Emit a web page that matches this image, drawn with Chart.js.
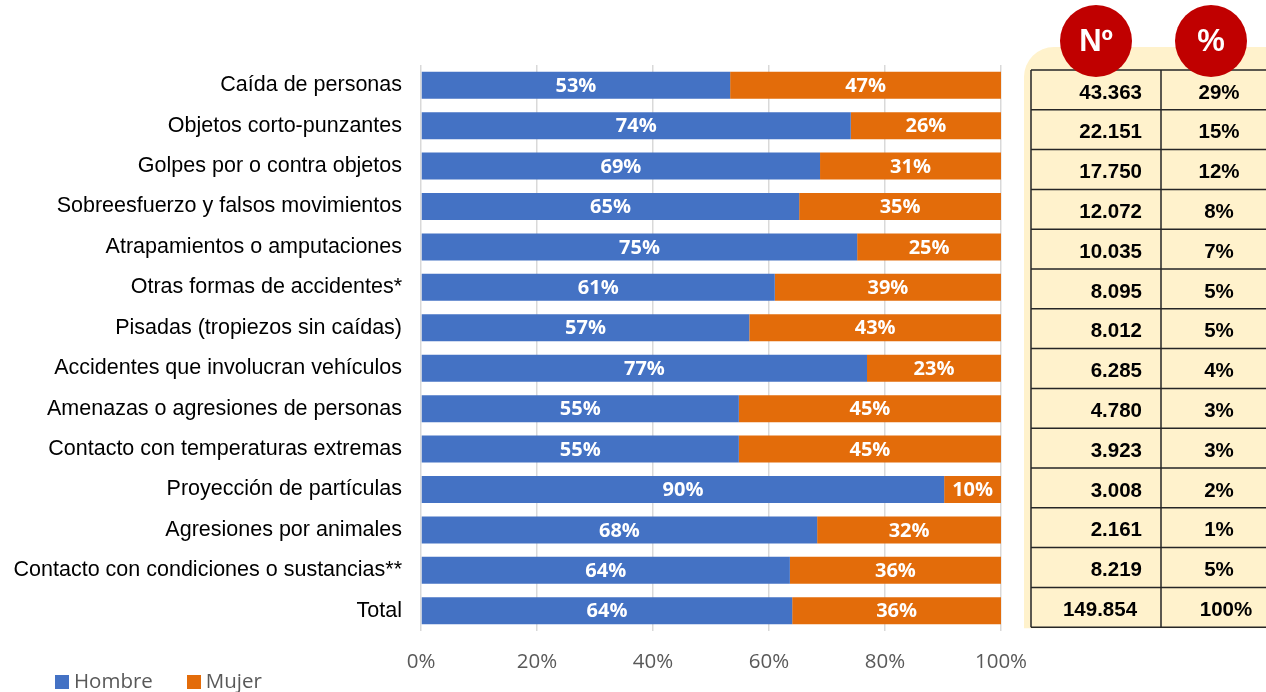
<!DOCTYPE html>
<html>
<head>
<meta charset="utf-8">
<script src="https://cdn.jsdelivr.net/npm/chart.js@4/dist/chart.umd.min.js"></script>
<style>
  body { margin:0; background:#fff; }
  #wrap { position:relative; width:1266px; height:692px; }
  #legend { position:absolute; left:55px; top:666px; font-family:"Open Sans", sans-serif; font-size:20.5px; color:#595959; }
  #legend span.box { display:inline-block; width:14px; height:14px; margin-right:5px; vertical-align:-1px; }
  #legend span.item { margin-right:34px; }
</style>
</head>
<body>
<div id="wrap">
  <canvas id="chart"></canvas>
  <div id="legend"></div>
</div>
<script>
// ----------------- DATA -----------------
const categories = [
  'Caída de personas',
  'Objetos corto-punzantes',
  'Golpes por o contra objetos',
  'Sobreesfuerzo y falsos movimientos',
  'Atrapamientos o amputaciones',
  'Otras formas de accidentes*',
  'Pisadas (tropiezos sin caídas)',
  'Accidentes que involucran vehículos',
  'Amenazas o agresiones de personas',
  'Contacto con temperaturas extremas',
  'Proyección de partículas',
  'Agresiones por animales',
  'Contacto con condiciones o sustancias**',
  'Total'
];
const hombre = [53.3, 74.1, 68.8, 65.2, 75.2, 61.0, 56.6, 76.9, 54.8, 54.8, 90.2, 68.3, 63.6, 64.0];
const mujer  = [46.7, 25.9, 31.2, 34.8, 24.8, 39.0, 43.4, 23.1, 45.2, 45.2,  9.8, 31.7, 36.4, 36.0];
const seriesNames = ['Hombre', 'Mujer'];
const seriesColors = ['#4472C4', '#E36C0A'];

// tabla lateral
const casos = ['43.363','22.151','17.750','12.072','10.035','8.095','8.012','6.285','4.780','3.923','3.008','2.161','8.219','149.854'];
const shares = ['29%','15%','12%','8%','7%','5%','5%','4%','3%','3%','2%','1%','5%','100%'];
const tableHeaders = ['Nº', '%'];

// ----------------- PLUGINS -----------------
// etiquetas blancas dentro de cada segmento
const segLabels = {
  id: 'segLabels',
  afterDatasetsDraw(chart) {
    const ctx = chart.ctx;
    ctx.save();
    ctx.fillStyle = '#fff';
    ctx.font = 'bold 20px "Open Sans", sans-serif';
    ctx.textAlign = 'center';
    ctx.textBaseline = 'middle';
    chart.data.datasets.forEach((ds, di) => {
      chart.getDatasetMeta(di).data.forEach((bar, i) => {
        const cx = (bar.x + bar.base) / 2;
        ctx.fillText(Math.round(ds.data[i]) + '%', cx, bar.y + 1);
      });
    });
    ctx.restore();
  }
};

// tabla con fondo beige y círculos rojos
const sideTable = {
  id: 'sideTable',
  afterDraw(chart) {
    const ctx = chart.ctx;
    const W = chart.width;
    const top = 70, rowH = 39.8, left = 1031, mid = 1161;
    const bottom = top + rowH * casos.length;
    ctx.save();
    // fondo
    ctx.fillStyle = '#FFF2CC';
    ctx.beginPath();
    ctx.roundRect(1024, 47, W - 1024 + 40, bottom - 47 + 1, [30, 0, 0, 0]);
    ctx.fill();
    // líneas
    ctx.strokeStyle = '#262626';
    ctx.lineWidth = 1.5;
    ctx.beginPath();
    for (let i = 0; i <= casos.length; i++) {
      const y = top + rowH * i;
      ctx.moveTo(left, y); ctx.lineTo(W, y);
    }
    ctx.moveTo(left, top); ctx.lineTo(left, bottom);
    ctx.moveTo(mid, top); ctx.lineTo(mid, bottom);
    ctx.stroke();
    // textos
    ctx.fillStyle = '#000';
    ctx.font = 'bold 20.5px "Liberation Sans", Arial, sans-serif';
    ctx.textBaseline = 'middle';
    casos.forEach((v, i) => {
      const y = top + rowH * i + rowH / 2 + 3;
      const last = i === casos.length - 1;
      ctx.textAlign = last ? 'center' : 'right';
      ctx.fillText(v, last ? 1100 : 1142, y);
      ctx.textAlign = 'center';
      ctx.fillText(shares[i], last ? 1226 : 1219, y);
    });
    // círculos
    [1096, 1211].forEach((cx, k) => {
      ctx.fillStyle = '#C00000';
      ctx.beginPath();
      ctx.arc(cx, 41, 36, 0, Math.PI * 2);
      ctx.fill();
      ctx.fillStyle = '#fff';
      ctx.font = 'bold 31px "Liberation Sans", Arial, sans-serif';
      ctx.textAlign = 'center';
      ctx.fillText(tableHeaders[k], cx, 42);
    });
    ctx.restore();
  }
};

// ----------------- CHART -----------------
const ctx = document.getElementById('chart').getContext('2d');
new Chart(ctx, {
  type: 'bar',
  data: {
    labels: categories,
    datasets: [
      { label: seriesNames[0], data: hombre, backgroundColor: seriesColors[0] },
      { label: seriesNames[1], data: mujer, backgroundColor: seriesColors[1] }
    ]
  },
  options: {
    indexAxis: 'y',
    responsive: true,
    maintainAspectRatio: false,
    animation: false,
    layout: { padding: { top: 65, right: 265, bottom: 0, left: 0 } },
    datasets: { bar: { categoryPercentage: 1, barPercentage: 0.667, borderWidth: 0 } },
    plugins: { legend: { display: false }, tooltip: { enabled: false } },
    scales: {
      x: {
        stacked: true, min: 0, max: 100,
        ticks: { stepSize: 20, padding: 19, color: '#595959', callback: v => v + '%',
                 font: { family: '"Open Sans", sans-serif', size: 20.5 } },
        grid: { color: '#D9D9D9', lineWidth: 1.5, drawTicks: false },
        border: { display: false },
        afterFit: s => { s.height = 61; }
      },
      y: {
        stacked: true,
        ticks: { padding: 19, color: '#000', font: { family: '"Liberation Sans", Arial, sans-serif', size: 21.5 } },
        grid: { display: false, drawTicks: false },
        border: { display: false },
        afterFit: s => { s.width = 421; }
      }
    }
  },
  plugins: [segLabels, sideTable]
});

// leyenda
document.getElementById('legend').innerHTML = seriesNames.map((n, i) =>
  `<span class="item"><span class="box" style="background:${seriesColors[i]}"></span>${n}</span>`).join('');
</script>
</body>
</html>
